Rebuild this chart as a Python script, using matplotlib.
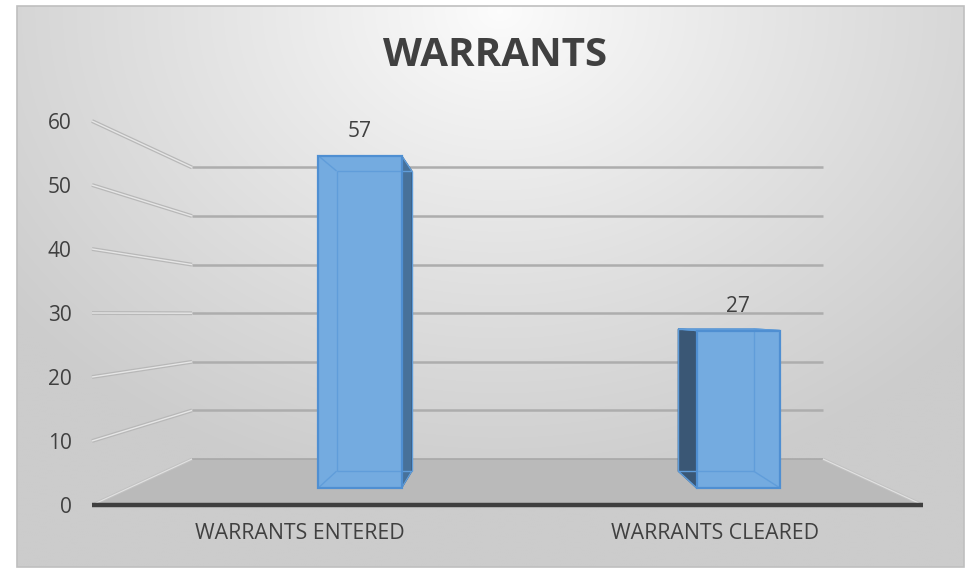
import numpy as np
import matplotlib.pyplot as plt
from matplotlib.patches import Polygon, Rectangle

plt.rcParams['font.family'] = ['Open Sans', 'DejaVu Sans']

# --- Data ---
categories = ['WARRANTS ENTERED', 'WARRANTS CLEARED']
values = [57, 27]
y_ticks = [0, 10, 20, 30, 40, 50, 60]
title = 'WARRANTS'

# --- Layout of the fake 3D scene (pixel space) ---
W, H = 966, 570
FLOOR_X0 = 92        # left end of floor front edge
CAT_W = 415.5        # width of one category on the front plane
BASE_Y = 505         # value 0 on the front plane
UNIT_PX = 6.4        # pixels per value unit on the front plane
VX, VY = 507.4, 314  # vanishing point
DEPTH_K = 0.317      # perspective shrink per unit of depth
BAR_W = 0.22
BAR_D0, BAR_D1 = 0.31, 0.68

TEXT = '#404040'


def proj(u, v, d):
    s = 1.0 / (1.0 + DEPTH_K * d)
    X = FLOOR_X0 + CAT_W * u
    Y = BASE_Y - UNIT_PX * v
    return (VX + s * (X - VX), VY + s * (Y - VY))


def poly(ax, pts, **kw):
    ax.add_patch(Polygon(pts, closed=True, **kw))


def line(ax, p0, p1, **kw):
    ax.plot([p0[0], p1[0]], [p0[1], p1[1]], solid_capstyle='butt', **kw)


fig = plt.figure(figsize=(W / 100, H / 100), dpi=100)
ax = fig.add_axes([0, 0, 1, 1])
ax.set_xlim(0, W)
ax.set_ylim(H, 0)
ax.axis('off')

# --- Chart area background: soft radial gradient ---
x0, x1, y0, y1 = 17, 964, 6, 567
gx, gy = np.meshgrid(np.linspace(x0, x1, 400), np.linspace(y0, y1, 240))
r = np.hypot(gx - 500, (gy - 10) * 1.25) / 620
g = 0.99 - 0.19 * np.clip(r, 0, 1) ** 0.9
ax.imshow(np.dstack([g, g, g]), extent=(x0, x1, y1, y0), aspect='auto',
          interpolation='bilinear', zorder=0)
ax.add_patch(Rectangle((x0, y0), x1 - x0, y1 - y0, fill=False,
                       ec='#bfbfbf', lw=1.2, zorder=1))

n = len(categories)

# --- Floor ---
poly(ax, [proj(0, 0, 0), proj(n, 0, 0), proj(n, 0, 1), proj(0, 0, 1)],
     fc='#bababa', ec='none', zorder=2)
line(ax, proj(0, 0, 1), proj(n, 0, 1), color='#a8a8a8', lw=1.2, zorder=3)
for u in (0, n):
    line(ax, proj(u, 0, 0), proj(u, 0, 1), color='#c2c2c2', lw=2.2, zorder=3)
    line(ax, proj(u, 0, 0), proj(u, 0, 1), color='#e2e2e2', lw=0.8, zorder=3)
line(ax, proj(0, 0, 0), proj(n, 0, 0), color='#3f3f3f', lw=3.2, zorder=6)

# --- Gridlines: back wall and left wall ---
for v in y_ticks[1:]:
    line(ax, proj(0, v, 1), proj(n, v, 1), color='#adadad', lw=1.8, zorder=2)
    line(ax, proj(0, v, 0), proj(0, v, 1), color='#b8b8b8', lw=2.8, zorder=2)
    line(ax, proj(0, v, 0), proj(0, v, 1), color='#e6e6e6', lw=1.0, zorder=2)

# --- Bars ---
FRONT = '#74abe0'
EDGE = '#4f8fd2'
INNER = '#609dda'
for i, val in enumerate(values):
    u0 = i + 0.5
    u1 = u0 + BAR_W
    f = [proj(u0, 0, BAR_D0), proj(u1, 0, BAR_D0), proj(u1, val, BAR_D0), proj(u0, val, BAR_D0)]
    b = [proj(u0, 0, BAR_D1), proj(u1, 0, BAR_D1), proj(u1, val, BAR_D1), proj(u0, val, BAR_D1)]
    # side face that faces the viewer
    if proj(u1, 0, 0)[0] < VX:
        side = [f[1], f[2], b[2], b[1]]
        side_c = '#47719a'
    else:
        side = [f[0], f[3], b[3], b[0]]
        side_c = '#3a5775'
    poly(ax, side, fc=side_c, ec='#2f5378', lw=1.0, zorder=4)
    # top face (seen when below eye level)
    if f[3][1] > b[3][1]:
        poly(ax, [f[3], f[2], b[2], b[3]], fc='#8bbbe8', ec=EDGE, lw=1.0, zorder=4)
    poly(ax, f, fc=FRONT, ec='none', zorder=5)
    # edges seen through the translucent box
    for k in range(4):
        line(ax, b[k], b[(k + 1) % 4], color=INNER, lw=1.0, zorder=5)
        line(ax, f[k], b[k], color=INNER, lw=1.0, zorder=5)
    poly(ax, f, fill=False, ec=EDGE, lw=1.6, zorder=5)

    cx = (f[0][0] + f[1][0]) / 2
    ax.annotate(str(val), (cx, f[3][1]), xytext=(0, 17.5), textcoords='offset points',
                ha='center', va='center', fontsize=15, color=TEXT, zorder=7)

# --- Axis labels ---
for v in y_ticks:
    p = proj(0, v, 0)
    ax.annotate(str(v), p, xytext=(-14.5, -1.5), textcoords='offset points',
                ha='right', va='center', fontsize=15, color=TEXT)

for i, cat in enumerate(categories):
    p = proj(i + 0.5, 0, 0)
    ax.annotate(cat, p, xytext=(0, -20.5), textcoords='offset points',
                ha='center', va='center', fontsize=15.3, color=TEXT)

ax.text(495, 56, title, ha='center', va='center', fontsize=29,
        fontweight='bold', color=TEXT)

fig.savefig('out.png', dpi=100)
